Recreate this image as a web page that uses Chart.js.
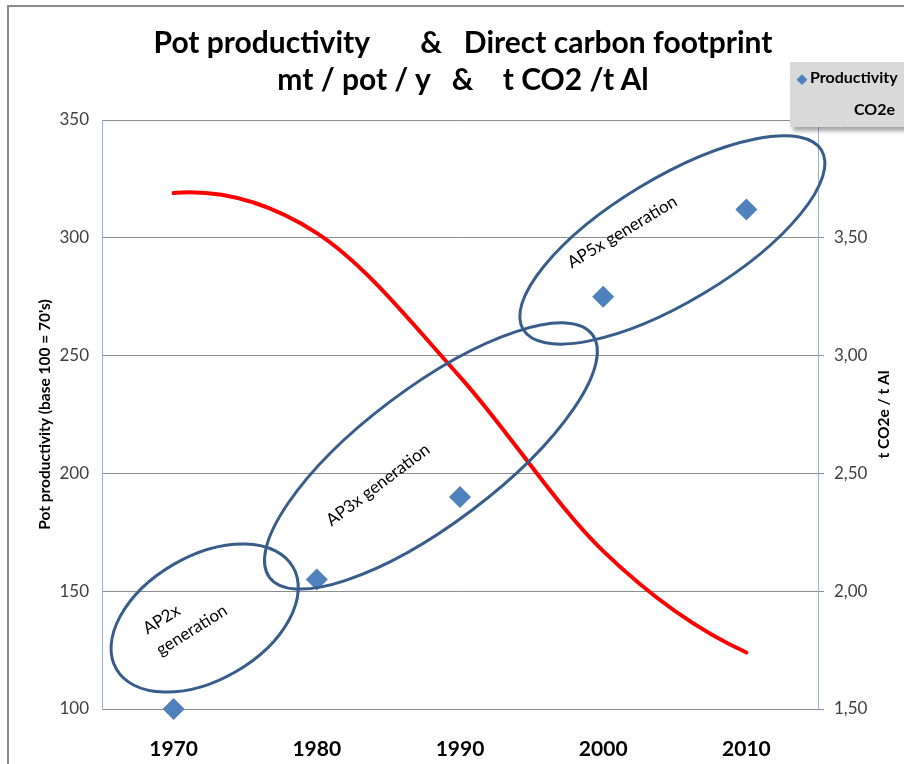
<!DOCTYPE html>
<html>
<head>
<meta charset="utf-8">
<script src="https://cdn.jsdelivr.net/npm/chart.js@4/dist/chart.umd.min.js"></script>
<style>
  html, body { margin: 0; padding: 0; background: #fff; }
  #wrap { position: relative; width: 904px; height: 764px; overflow: hidden; font-family: Lato, "Open Sans", sans-serif; }
  #frame { position: absolute; left: 7px; top: 5px; width: 920px; height: 780px; border-left: 2px solid #8a8a8a; border-top: 2px solid #8a8a8a; }
  #title { position: absolute; left: 0; top: 23px; width: 926px; text-align: center; font-weight: bold; font-size: 30px; line-height: 37px; white-space: pre; color: #000; }
  #legend { position: absolute; left: 790px; top: 62px; width: 130px; height: 65px; background: #d9d9d9; box-shadow: 3px 4px 4px rgba(0,0,0,0.35); font-weight: bold; font-size: 16px; color: #000; }
  #legend .row1 { position: absolute; left: 7px; top: 5px; white-space: nowrap; }
  #legend .row1 span { color: #4f81bd; font-size: 13px; margin-right: 3px; }
  #legend .row2 { position: absolute; right: 25px; top: 37px; }
  canvas { position: absolute; left: 0; top: 0; }
</style>
</head>
<body>
<div id="wrap">
  <div id="frame"></div>
  <canvas id="chartCanvas" width="904" height="764"></canvas>
  <div id="title">Pot productivity       &amp;   Direct carbon footprint
mt / pot / y   &amp;    t CO2 /t Al</div>
  <div id="legend">
    <div class="row1"><span>&#9670;</span>Productivity</div>
    <div class="row2">CO2e</div>
  </div>
</div>
<script>
const FONT = "Lato, 'Open Sans', sans-serif";

const years = ["1970", "1980", "1990", "2000", "2010"];
const productivity = [100, 155, 190, 275, 312];
const co2e = [3.69, 3.52, 2.91, 2.17, 1.74];

const leftMin = 100, leftMax = 350, leftStep = 50;
const rightMin = 1.5, rightMax = 4, rightStep = 0.5;

const leftTitle = "Pot productivity (base 100 = 70's)";
const rightTitle = "t CO2e / t Al";

// groups drawn over the chart: centre in (category index, left axis value)
const groups = [
  { cx: 0.217, cy: 138.6, rx: 102, ry: 62, angle: -30 },
  { cx: 1.797, cy: 207.4, rx: 202, ry: 68, angle: -37 },
  { cx: 3.483, cy: 299.1, rx: 174, ry: 62, angle: -31 },
];
const groupLabels = [
  { x: -0.203, y: 133.5, angle: -32, lines: ["AP2x", "generation"], align: "left" },
  { x: 1.427, y: 195.1, angle: -37, lines: ["AP3x generation"], align: "center" },
  { x: 3.133, y: 302.5, angle: -31, lines: ["AP5x generation"], align: "center" },
];

// spreadsheet-style smoothing: catmull-rom inside, parabolic end tangents
const smoothLine = {
  id: "smoothLine",
  beforeDatasetDraw(chart, args) {
    if (args.index !== 1) return;
    const line = args.meta.dataset;
    line.updateControlPoints(chart.chartArea, "x");
    const pts = args.meta.data;
    const n = pts.length;
    const m = pts.map((p, i) => {
      if (i === 0 || i === n - 1) return null;
      return { x: (pts[i + 1].x - pts[i - 1].x) / 2, y: (pts[i + 1].y - pts[i - 1].y) / 2 };
    });
    m[0] = { x: 2 * (pts[1].x - pts[0].x) - m[1].x, y: 2 * (pts[1].y - pts[0].y) - m[1].y };
    m[n - 1] = {
      x: 2 * (pts[n - 1].x - pts[n - 2].x) - m[n - 2].x,
      y: 2 * (pts[n - 1].y - pts[n - 2].y) - m[n - 2].y,
    };
    pts.forEach((p, i) => {
      p.cp1x = p.x - m[i].x / 3;
      p.cp1y = p.y - m[i].y / 3;
      p.cp2x = p.x + m[i].x / 3;
      p.cp2y = p.y + m[i].y / 3;
    });
    line._path = undefined;
  },
};

const overlay = {
  id: "overlay",
  afterDatasetsDraw(chart) {
    const ctx = chart.ctx;
    const xs = chart.scales.x, ys = chart.scales.y;
    ctx.save();
    ctx.strokeStyle = "#385d8a";
    ctx.lineWidth = 3;
    groups.forEach((g) => {
      ctx.beginPath();
      ctx.ellipse(xs.getPixelForValue(g.cx), ys.getPixelForValue(g.cy), g.rx, g.ry,
        (g.angle * Math.PI) / 180, 0, Math.PI * 2);
      ctx.stroke();
    });
    ctx.fillStyle = "#000";
    ctx.font = "17px " + FONT;
    ctx.textBaseline = "middle";
    groupLabels.forEach((l) => {
      ctx.save();
      ctx.translate(xs.getPixelForValue(l.x), ys.getPixelForValue(l.y));
      ctx.rotate((l.angle * Math.PI) / 180);
      ctx.textAlign = l.align;
      l.lines.forEach((t, i) => ctx.fillText(t, 0, i * 25));
      ctx.restore();
    });
    ctx.restore();
  },
  afterDraw(chart) {
    const ctx = chart.ctx;
    const area = chart.chartArea;
    const midY = (area.top + area.bottom) / 2;
    ctx.save();
    ctx.fillStyle = "#000";
    ctx.font = "bold 15.5px " + FONT;
    ctx.textAlign = "center";
    ctx.textBaseline = "middle";
    [[45, leftTitle], [884, rightTitle]].forEach(([x, t]) => {
      ctx.save();
      ctx.translate(x, midY);
      ctx.rotate(-Math.PI / 2);
      ctx.fillText(t, 0, 0);
      ctx.restore();
    });
    ctx.restore();
  },
};

new Chart(document.getElementById("chartCanvas"), {
  type: "line",
  data: {
    labels: years,
    datasets: [
      {
        label: "Productivity",
        data: productivity,
        yAxisID: "y",
        showLine: false,
        clip: false,
        pointStyle: "rectRot",
        pointRadius: 11,
        pointHoverRadius: 11,
        backgroundColor: "#4f81bd",
        borderColor: "#4f81bd",
        borderWidth: 0,
      },
      {
        label: "CO2e",
        data: co2e,
        yAxisID: "y1",
        borderColor: "#ff0000",
        borderWidth: 4,
        borderCapStyle: "round",
        pointRadius: 0,
        tension: 0.4,
        fill: false,
      },
    ],
  },
  options: {
    responsive: false,
    animation: false,
    devicePixelRatio: 1,
    layout: { padding: { top: 120, left: 0, right: 0, bottom: 0 } },
    plugins: { legend: { display: false }, title: { display: false }, tooltip: { enabled: false } },
    scales: {
      x: {
        type: "category",
        offset: true,
        grid: { display: false },
        border: { color: "#8c8c8c" },
        ticks: { color: "#000", font: { family: FONT, size: 21, weight: "bold" }, padding: 20 },
        afterFit: (s) => { s.height = 55; },
      },
      y: {
        position: "left",
        min: leftMin,
        max: leftMax,
        ticks: { stepSize: leftStep, color: "#404040", font: { family: FONT, size: 17 }, padding: 13 },
        grid: { color: "#8c8c8c", drawTicks: false },
        border: { color: "#95b3d7" },
        afterFit: (s) => { s.width = 102; },
      },
      y1: {
        position: "right",
        min: rightMin,
        max: rightMax,
        ticks: {
          stepSize: rightStep,
          color: "#404040",
          font: { family: FONT, size: 17 },
          padding: 10,
          callback: (v) => v.toFixed(2).replace(".", ","),
        },
        grid: { drawOnChartArea: false, drawTicks: true, tickLength: 6, color: "#8c8c8c" },
        border: { color: "#95b3d7" },
        afterFit: (s) => { s.width = 86; },
      },
    },
  },
  plugins: [smoothLine, overlay],
});
</script>
</body>
</html>
